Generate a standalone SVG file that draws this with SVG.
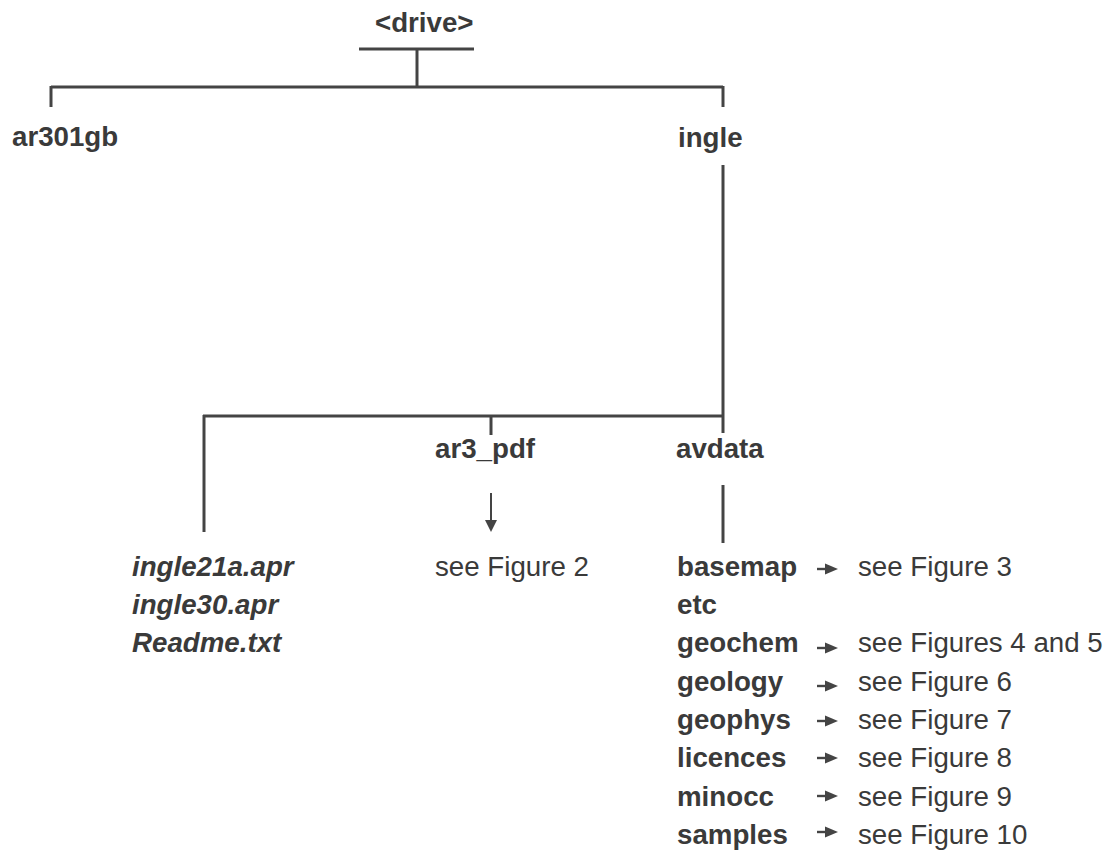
<svg xmlns="http://www.w3.org/2000/svg" width="1106" height="853" viewBox="0 0 1106 853">
<style>
text{font-family:"Liberation Sans",Arial,sans-serif;font-size:27.7px;fill:#3a3a3a}
.b{font-weight:bold}
.bi{font-weight:bold;font-style:italic}
.ln{stroke:#444;stroke-width:3;fill:none;stroke-linecap:butt}
.ah{fill:#444}
</style>
<defs>
<g id="arr"><rect x="0" y="-1.2" width="10" height="2.4" class="ah"/><path d="M8,-5.5 L21,0 L8,5.5 Z" class="ah"/></g>
</defs>
<rect width="1106" height="853" fill="#fff"/>
<g id="connectors">
<line class="ln" x1="359" y1="49" x2="474" y2="49"/>
<line class="ln" x1="417" y1="49" x2="417" y2="87"/>
<line class="ln" x1="51" y1="87" x2="723" y2="87"/>
<line class="ln" x1="51" y1="86" x2="51" y2="107"/>
<line class="ln" x1="723" y1="86" x2="723" y2="107"/>
<line class="ln" x1="723" y1="165" x2="723" y2="433"/>
<line class="ln" x1="203" y1="416" x2="723" y2="416"/>
<line class="ln" x1="204" y1="415" x2="204" y2="532"/>
<line class="ln" x1="491" y1="416" x2="491" y2="435"/>
<line class="ln" x1="723" y1="485" x2="723" y2="543"/>
<line stroke="#444" stroke-width="2" x1="491" y1="493" x2="491" y2="522"/>
<path class="ah" d="M485,520 L497,520 L491,532 Z"/>
<use href="#arr" x="817" y="569"/>
<use href="#arr" x="817" y="648"/>
<use href="#arr" x="817" y="686"/>
<use href="#arr" x="817" y="721"/>
<use href="#arr" x="817" y="758"/>
<use href="#arr" x="817" y="796"/>
<use href="#arr" x="817" y="832"/>
</g>
<g id="drive"><text class="b" x="375" y="32">&lt;drive&gt;</text></g>
<g id="ar301gb"><text class="b" x="12" y="146">ar301gb</text></g>
<g id="ingle"><text class="b" x="678" y="147">ingle</text></g>
<g id="ar3_pdf"><text class="b" x="435" y="458">ar3_pdf</text></g>
<g id="avdata"><text class="b" x="676" y="458">avdata</text></g>
<g id="files">
<text class="bi" x="132" y="576">ingle21a.apr</text>
<text class="bi" x="132" y="614">ingle30.apr</text>
<text class="bi" x="132" y="652">Readme.txt</text>
</g>
<g id="fig2"><text x="435" y="576">see Figure 2</text></g>
<g id="avdata-list">
<text class="b" x="677" y="576">basemap</text>
<text class="b" x="677" y="614">etc</text>
<text class="b" x="677" y="652">geochem</text>
<text class="b" x="677" y="691">geology</text>
<text class="b" x="677" y="729">geophys</text>
<text class="b" x="677" y="767">licences</text>
<text class="b" x="677" y="806">minocc</text>
<text class="b" x="677" y="844">samples</text>
</g>
<g id="refs">
<text x="858" y="576">see Figure 3</text>
<text x="858" y="652">see Figures 4 and 5</text>
<text x="858" y="691">see Figure 6</text>
<text x="858" y="729">see Figure 7</text>
<text x="858" y="767">see Figure 8</text>
<text x="858" y="806">see Figure 9</text>
<text x="858" y="844">see Figure 10</text>
</g>
</svg>
